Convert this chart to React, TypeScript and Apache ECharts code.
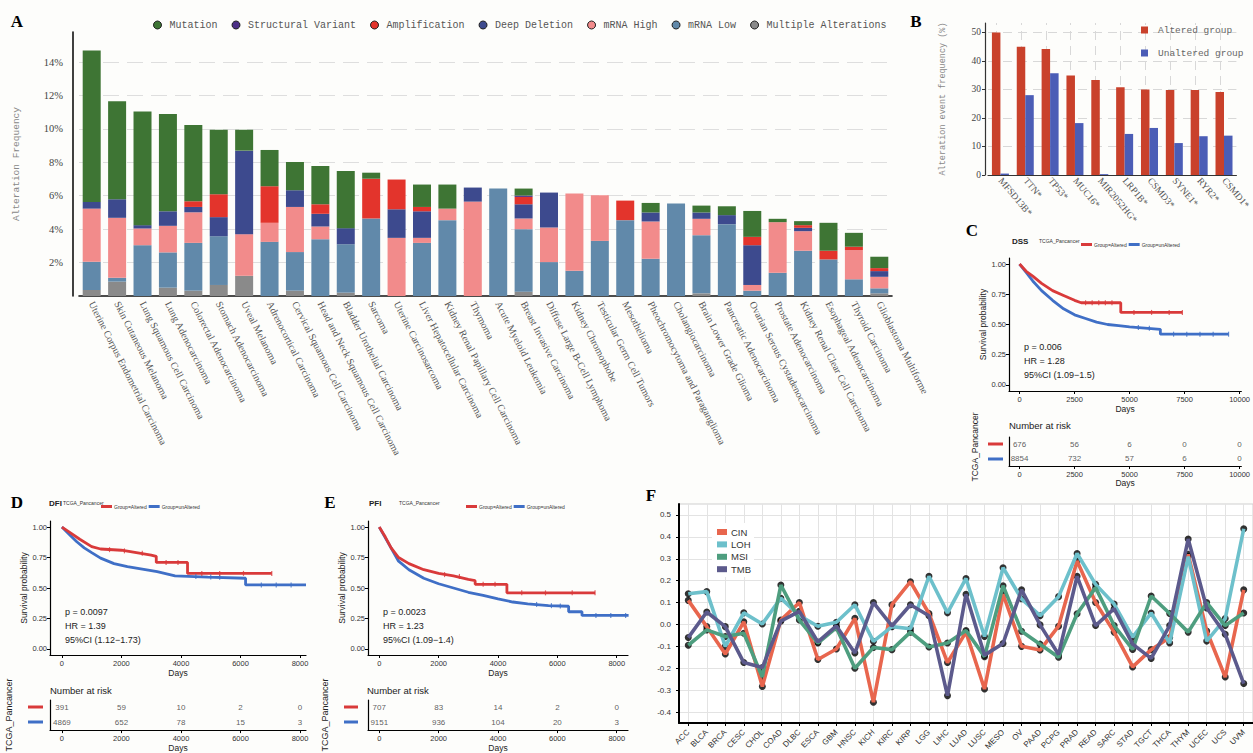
import React, { useEffect, useRef } from "react";
import * as echarts from "echarts";

// ---------- Panel A data ----------
const cancerTypes = [
  "Uterine Corpus Endometrial Carcinoma", "Skin Cutaneous Melanoma", "Lung Squamous Cell Carcinoma",
  "Lung Adenocarcinoma", "Colorectal Adenocarcinoma", "Stomach Adenocarcinoma", "Uveal Melanoma",
  "Adrenocortical Carcinoma", "Cervical Squamous Cell Carcinoma", "Head and Neck Squamous Cell Carcinoma",
  "Bladder Urothelial Carcinoma", "Sarcoma", "Uterine Carcinosarcoma", "Liver Hepatocellular Carcinoma",
  "Kidney Renal Papillary Cell Carcinoma", "Thymoma", "Acute Myeloid Leukemia", "Breast Invasive Carcinoma",
  "Diffuse Large B-Cell Lymphoma", "Kidney Chromophobe", "Testicular Germ Cell Tumors", "Mesothelioma",
  "Pheochromocytoma and Paraganglioma", "Cholangiocarcinoma", "Brain Lower Grade Glioma",
  "Pancreatic Adenocarcinoma", "Ovarian Serous Cystadenocarcinoma", "Prostate Adenocarcinoma",
  "Kidney Renal Clear Cell Carcinoma", "Esophageal Adenocarcinoma", "Thyroid Carcinoma", "Glioblastoma Multiforme",
];
const multipleAlterations = [0.36, 0.86, 0, 0.5, 0.32, 0.66, 1.21, 0, 0.32, 0, 0.2, 0, 0, 0, 0, 0, 0, 0.26, 0, 0, 0, 0, 0, 0, 0.16, 0, 0, 0, 0, 0, 0, 0.16];
const mrnaLow = [1.69, 0.23, 3.04, 2.11, 2.86, 2.92, 0, 3.24, 2.31, 3.4, 2.9, 4.64, 0, 3.18, 4.54, 0, 6.43, 3.74, 2.03, 1.51, 3.3, 4.54, 2.23, 5.53, 3.48, 4.3, 0.32, 1.39, 2.71, 2.19, 1.0, 0.3];
const mrnaHigh = [3.18, 3.59, 1.0, 1.59, 1.83, 0, 2.49, 1.14, 2.7, 0.76, 0, 0, 3.48, 0.3, 0.69, 5.65, 0, 0.64, 2.07, 4.62, 2.73, 0, 2.23, 0, 0.98, 0, 0.34, 3.03, 1.17, 0, 1.75, 0.69];
const deepDeletion = [0.4, 1.11, 0.2, 0.87, 0.32, 1.14, 5.0, 0, 1.0, 0.76, 0.96, 0, 1.71, 1.59, 0, 0.84, 0, 0.85, 2.09, 0, 0, 0, 0.54, 0, 0.38, 0.54, 2.38, 0, 0.2, 0, 0, 0.34];
const amplification = [0, 0, 0, 0, 0.34, 1.37, 0, 2.19, 0, 0.57, 0, 2.38, 1.78, 0.26, 0, 0, 0, 0.44, 0, 0, 0, 1.17, 0, 0, 0, 0, 0.5, 0, 0.16, 0.52, 0.2, 0.18];
const structuralVariant = [0, 0, 0, 0, 0, 0, 0, 0, 0, 0, 0, 0, 0, 0, 0, 0, 0, 0.08, 0, 0, 0, 0, 0, 0, 0, 0, 0, 0, 0, 0, 0, 0];
const mutation = [9.06, 5.87, 6.8, 5.82, 4.56, 3.86, 1.25, 2.17, 1.69, 2.29, 3.42, 0.36, 0, 1.34, 1.44, 0, 0, 0.42, 0, 0, 0, 0, 0.57, 0, 0.41, 0.53, 1.55, 0.2, 0.24, 1.67, 0.83, 0.68];
const freqTicks = [2, 4, 6, 8, 10, 12, 14];

// ---------- Panel B data ----------
const genes = ["MFSD13B*", "TTN*", "TP53*", "MUC16*", "MIR2052HG*", "LRP1B*", "CSMD3*", "SYNE1*", "RYR2*", "CSMD1*"];
const alteredGroup = [50.0, 45.0, 44.2, 34.9, 33.3, 30.8, 30.0, 29.8, 29.8, 29.1];
const unalteredGroup = [0.5, 28.0, 35.7, 18.2, 0.3, 14.4, 16.5, 11.2, 13.6, 13.8];
const eventTicks = [0, 10, 20, 30, 40, 50];

// ---------- Panels C, D, E (Kaplan-Meier) ----------
const survTicks = [0, 0.25, 0.5, 0.75, 1];
const dssAlteredDays = [0, 300, 600, 1000, 1500, 2000, 2500, 2800, 4600, 4600, 7400];
const dssAlteredSurv = [1, 0.94, 0.9, 0.84, 0.78, 0.74, 0.7, 0.68, 0.68, 0.6, 0.6];
const dssUnalteredDays = [0, 300, 600, 1000, 1500, 2000, 2500, 3000, 3500, 4000, 4500, 5000, 6400, 6400, 9500];
const dssUnalteredSurv = [1, 0.93, 0.86, 0.78, 0.7, 0.63, 0.58, 0.55, 0.52, 0.5, 0.49, 0.48, 0.46, 0.42, 0.42];
const dssAlteredCensor = [[3000, 0.68], [3300, 0.68], [3600, 0.68], [3900, 0.68], [4200, 0.68], [5200, 0.6], [6000, 0.6], [6800, 0.6], [7400, 0.6]];
const dssUnalteredCensor = [[5400, 0.475], [5900, 0.47], [7000, 0.42], [7600, 0.42], [8200, 0.42], [8800, 0.42], [9500, 0.42]];
const dssDayTicks = [0, 2500, 5000, 7500, 10000];
const dssRiskAltered = [676, 56, 6, 0, 0];
const dssRiskUnaltered = [8854, 732, 57, 6, 0];

const dfiAlteredDays = [0, 300, 600, 1000, 1300, 2000, 2500, 3000, 3170, 3170, 4220, 4220, 7050];
const dfiAlteredSurv = [1, 0.95, 0.9, 0.84, 0.82, 0.81, 0.79, 0.77, 0.76, 0.71, 0.71, 0.62, 0.62];
const dfiUnalteredDays = [0, 250, 500, 750, 1000, 1300, 1750, 2200, 3200, 3800, 4900, 6170, 6170, 8200];
const dfiUnalteredSurv = [1, 0.94, 0.88, 0.83, 0.79, 0.745, 0.7, 0.675, 0.635, 0.6, 0.59, 0.58, 0.525, 0.525];
const dfiAlteredCensor = [[1600, 0.815], [2100, 0.805], [2700, 0.785], [3500, 0.71], [3900, 0.71], [4700, 0.62], [5300, 0.62], [6100, 0.62], [7050, 0.62]];
const dfiUnalteredCensor = [[4500, 0.595], [5000, 0.59], [5300, 0.588], [6700, 0.525], [7200, 0.525], [7700, 0.525]];
const dfiDayTicks = [0, 2000, 4000, 6000, 8000];
const dfiRiskAltered = [391, 59, 10, 2, 0];
const dfiRiskUnaltered = [4869, 652, 78, 15, 3];

const pfiAlteredDays = [0, 200, 400, 650, 1000, 1500, 2000, 2500, 3000, 3230, 3230, 4300, 4300, 7270];
const pfiAlteredSurv = [1, 0.92, 0.83, 0.75, 0.7, 0.65, 0.62, 0.6, 0.57, 0.56, 0.53, 0.53, 0.46, 0.46];
const pfiUnalteredDays = [0, 300, 650, 1000, 1500, 2000, 2500, 3000, 3500, 4000, 4500, 5000, 5700, 6380, 6380, 6830, 6830, 8400];
const pfiUnalteredSurv = [1, 0.87, 0.72, 0.65, 0.58, 0.535, 0.5, 0.465, 0.44, 0.41, 0.385, 0.37, 0.355, 0.35, 0.305, 0.305, 0.275, 0.275];
const pfiAlteredCensor = [[2200, 0.61], [2700, 0.595], [3500, 0.53], [3900, 0.53], [4800, 0.46], [5600, 0.46], [6500, 0.46], [7270, 0.46]];
const pfiUnalteredCensor = [[5300, 0.365], [5800, 0.355], [6100, 0.352], [7300, 0.275], [7800, 0.275], [8300, 0.275]];
const pfiDayTicks = [0, 2000, 4000, 6000, 8000];
const pfiRiskAltered = [707, 83, 14, 2, 0];
const pfiRiskUnaltered = [9151, 936, 104, 20, 3];

// ---------- Panel F data ----------
const tcgaCodes = ["ACC", "BLCA", "BRCA", "CESC", "CHOL", "COAD", "DLBC", "ESCA", "GBM", "HNSC", "KICH", "KIRC", "KIRP", "LGG", "LIHC", "LUAD", "LUSC", "MESO", "OV", "PAAD", "PCPG", "PRAD", "READ", "SARC", "STAD", "TGCT", "THCA", "THYM", "UCEC", "UCS", "UVM"];
const cin = [0.11, -0.01, -0.135, 0.012, -0.283, 0.02, 0.1, -0.16, -0.112, 0.028, -0.355, 0.09, 0.195, 0.05, -0.174, -0.035, -0.295, 0.138, -0.1, -0.117, -0.008, 0.29, 0.1, -0.035, -0.194, -0.115, -0.06, 0.32, -0.03, -0.24, 0.158];
const loh = [0.14, 0.15, -0.1, 0.053, 0.002, 0.12, 0.04, -0.008, 0.01, 0.09, -0.077, -0.01, -0.02, 0.22, 0.053, 0.21, -0.055, 0.259, 0.117, 0.04, 0.127, 0.324, 0.183, 0.093, -0.058, 0.052, -0.085, 0.31, -0.076, 0.027, 0.437];
const msi = [-0.095, -0.025, -0.055, -0.04, -0.24, 0.18, 0.02, -0.085, -0.015, -0.2, -0.105, -0.115, -0.035, -0.103, -0.085, -0.028, -0.147, 0.177, -0.031, -0.09, -0.15, 0.049, 0.168, -0.005, -0.114, 0.13, 0.05, -0.035, 0.1, -0.005, 0.052];
const tmb = [-0.06, 0.057, -0.01, -0.174, -0.197, 0.015, 0.06, -0.08, -0.007, -0.13, 0.1, -0.007, 0.09, 0.04, -0.325, 0.138, -0.14, -0.087, 0.158, -0.002, -0.137, 0.22, -0.005, 0.072, -0.09, -0.155, -0.005, 0.39, 0.075, -0.045, -0.27];
const corrTicks = [-0.4, -0.3, -0.2, -0.1, 0, 0.1, 0.2, 0.3, 0.4, 0.5];
const fNames = ["CIN", "LOH", "MSI", "TMB"];

// ---------- styling ----------
const MONO = "'Liberation Mono', 'DejaVu Sans Mono', monospace";
const SERIF = "'Liberation Serif', 'DejaVu Serif', serif";
const SANS = "'Liberation Sans', Arial, sans-serif";
const RED_KM = "#D93A3A";
const BLUE_KM = "#3F6FC6";

const zip = (a: number[], b: number[]) => a.map((v, i) => [v, b[i]]);

function kmAxes(grid: number, tableGrid: number, min: number, max: number, ticks: number[]) {
  const xPlot = {
    type: "value", gridIndex: grid, min, max,
    axisLine: { show: true, onZero: false, lineStyle: { color: "#000", width: 1.2 } },
    axisTick: { show: true, customValues: ticks, length: 3, lineStyle: { color: "#000" } },
    axisLabel: { customValues: ticks, formatter: (v: number) => String(v), fontSize: 7.5, color: "#333", fontFamily: SANS, margin: 4 },
    splitLine: { show: false },
    name: "Days", nameLocation: "middle", nameGap: 13,
    nameTextStyle: { fontSize: 8.5, color: "#222", fontFamily: SANS },
  };
  const xTable = { ...xPlot, gridIndex: tableGrid, nameGap: 12 };
  const yPlot = {
    type: "value", gridIndex: grid, min: -0.05, max: 1.05,
    axisLine: { show: true, onZero: false, lineStyle: { color: "#000", width: 1.2 } },
    axisTick: { show: true, customValues: survTicks, length: 3, lineStyle: { color: "#000" } },
    axisLabel: { customValues: survTicks, formatter: (v: number) => v.toFixed(2), fontSize: 7.5, color: "#333", fontFamily: SANS, margin: 3 },
    splitLine: { show: false },
    name: "Survival probability", nameLocation: "middle", nameGap: 22,
    nameTextStyle: { fontSize: 8.5, color: "#222", fontFamily: SANS },
  };
  const yTable = {
    type: "value", gridIndex: tableGrid, min: 0, max: 4,
    axisLine: { show: true, onZero: false, lineStyle: { color: "#000", width: 1.2 } },
    axisTick: { show: false }, axisLabel: { show: false }, splitLine: { show: false },
  };
  return { xPlot, xTable, yPlot, yTable };
}

function kmSeries(axisIdx: number, tableIdx: number, aD: number[], aS: number[], uD: number[], uS: number[],
  aC: number[][], uC: number[][], ticks: number[], rA: number[], rU: number[]) {
  const line = (name: string, color: string, data: number[][]) => ({
    type: "line", name, xAxisIndex: axisIdx, yAxisIndex: axisIdx, data, color,
    showSymbol: false, symbol: "none", lineStyle: { width: 2.8, color }, silent: true, z: 3,
  });
  const censor = (name: string, color: string, data: number[][]) => ({
    type: "scatter", name, xAxisIndex: axisIdx, yAxisIndex: axisIdx, data, symbol: "rect", symbolSize: [1.2, 5],
    itemStyle: { color }, silent: true, z: 4,
  });
  const risk = (name: string, row: number, vals: number[]) => ({
    type: "scatter", name, xAxisIndex: tableIdx, yAxisIndex: tableIdx, symbolSize: 1,
    itemStyle: { color: "rgba(0,0,0,0)" }, silent: true,
    label: { show: true, position: "inside", formatter: (p: any) => String(p.value[2]), fontSize: 8, color: "#333", fontFamily: SANS },
    data: ticks.map((d, i) => [d, row, vals[i]]),
  });
  return [
    line("Group=unAltered", BLUE_KM, zip(uD, uS)),
    line("Group=Altered", RED_KM, zip(aD, aS)),
    censor("censor-unaltered", BLUE_KM, uC),
    censor("censor-altered", RED_KM, aC),
    risk("risk-altered", 3, rA),
    risk("risk-unaltered", 1, rU),
  ];
}

function kmLegend(left: number, top: number) {
  return {
    left, top, itemWidth: 11, itemHeight: 3, itemGap: 2, icon: "rect",
    data: ["Group=Altered", "Group=unAltered"],
    textStyle: { fontSize: 5, color: "#333", fontFamily: SANS, padding: [0, 0, 0, -3] },
    selectedMode: false,
  };
}

function txt(x: number, y: number, text: string, size: number, opts: any = {}) {
  return {
    type: "text", x, y, silent: true, rotation: opts.rotation || 0, z: opts.z || 0,
    style: {
      text, fontSize: size, fontFamily: opts.font || SANS, fontWeight: opts.bold ? "bold" : "normal",
      fill: opts.color || "#222", align: opts.align || "left", verticalAlign: "middle",
    },
  };
}
function bar(x1: number, x2: number, y: number, color: string, h = 3, z = 0) {
  return { type: "rect", silent: true, z, shape: { x: x1, y: y - h / 2, width: x2 - x1, height: h }, style: { fill: color } };
}

export default function App() {
  const ref = useRef<HTMLDivElement>(null);
  const refF = useRef<HTMLDivElement>(null);
  useEffect(() => {
    if (!ref.current || !refF.current) return;
    const chart = echarts.init(ref.current, null, { renderer: "svg" });
    const chartF = echarts.init(refF.current, null, { renderer: "svg" });

    const C = kmAxes(2, 3, -480, 10080, dssDayTicks);
    const D = kmAxes(4, 5, -400, 8200, dfiDayTicks);
    const E = kmAxes(6, 7, -380, 8380, pfiDayTicks);

    const aColors: Record<string, string> = {
      "Mutation": "#3E7534", "Structural Variant": "#4B2E86", "Amplification": "#E3342C",
      "Deep Deletion": "#3D4A8E", "mRNA High": "#F28B8B", "mRNA Low": "#6189AA", "Multiple Alterations": "#8A8A8A",
    };
    const aSeries: [string, number[]][] = [
      ["Multiple Alterations", multipleAlterations], ["mRNA Low", mrnaLow], ["mRNA High", mrnaHigh],
      ["Deep Deletion", deepDeletion], ["Amplification", amplification], ["Structural Variant", structuralVariant],
      ["Mutation", mutation],
    ];

    const option: any = {
      animation: false,
      backgroundColor: "#fdfdfb",
      grid: [
        { left: 79, top: 32, width: 813, height: 264 },
        { left: 988, top: 23, width: 252, height: 152 },
        { left: 1009, top: 258, width: 245, height: 133 },
        { left: 1009, top: 437, width: 245, height: 29 },
        { left: 50, top: 521, width: 256, height: 134 },
        { left: 50, top: 700, width: 256, height: 32 },
        { left: 368, top: 521, width: 260, height: 134 },
        { left: 368, top: 700, width: 260, height: 32 },
      ],
      xAxis: [
        {
          type: "category", gridIndex: 0, data: cancerTypes,
          axisLine: { onZero: false, lineStyle: { color: "#111", width: 1.6 } }, axisTick: { show: false },
          axisLabel: { interval: 0, rotate: -63, fontSize: 10, color: "#555", fontFamily: SERIF, margin: 6 },
        },
        {
          type: "category", gridIndex: 1, data: genes,
          axisLine: { onZero: false, lineStyle: { color: "#333", width: 1.2 } }, axisTick: { show: false },
          axisLabel: { interval: 0, rotate: -50, fontSize: 9.5, color: "#555", fontFamily: SERIF, margin: 4 },
        },
        C.xPlot, C.xTable, D.xPlot, D.xTable, E.xPlot, E.xTable,
      ],
      yAxis: [
        {
          type: "value", gridIndex: 0, min: 0, max: 15.8, offset: 6,
          axisLine: { show: true, lineStyle: { color: "#111", width: 1.6 } }, axisTick: { show: false },
          axisLabel: { customValues: freqTicks, formatter: (v: number) => v + "%", fontSize: 10.5, color: "#444", fontFamily: SERIF, margin: 10 },
          splitLine: { show: false },
          name: "Alteration Frequency", nameLocation: "middle", nameGap: 52,
          nameTextStyle: { fontSize: 9.5, color: "#888", fontFamily: MONO },
        },
        {
          type: "value", gridIndex: 1, min: 0, max: 53.3, offset: 3,
          axisLine: { show: true, lineStyle: { color: "#333", width: 1.2 } },
          axisTick: { show: true, customValues: eventTicks, length: 3, lineStyle: { color: "#333" } },
          axisLabel: { customValues: eventTicks, fontSize: 9.5, color: "#444", fontFamily: SERIF, margin: 4 },
          splitLine: { show: false },
          name: "Alteration event frequency (%)", nameLocation: "middle", nameGap: 38,
          nameTextStyle: { fontSize: 8.5, color: "#888", fontFamily: MONO },
        },
        C.yPlot, C.yTable, D.yPlot, D.yTable, E.yPlot, E.yTable,
      ],
      legend: [
        {
          left: 148, top: 15, itemWidth: 8, itemHeight: 8, itemGap: 14, icon: "circle", selectedMode: false,
          data: ["Mutation", "Structural Variant", "Amplification", "Deep Deletion", "mRNA High", "mRNA Low", "Multiple Alterations"],
          itemStyle: { borderColor: "#222", borderWidth: 1 },
          textStyle: { fontSize: 10, color: "#555", fontFamily: MONO, padding: [0, 0, 0, 3] },
        },
        {
          left: 1136, top: 20, orient: "vertical", itemWidth: 7, itemHeight: 7, itemGap: 13, icon: "rect", selectedMode: false,
          data: ["Altered group", "Unaltered group"],
          textStyle: { fontSize: 9.5, color: "#666", fontFamily: MONO, padding: [0, 0, 0, 5] },
        },
        kmLegend(1076, 237),
        kmLegend(96, 499),
        kmLegend(461, 499),
      ],
      series: [
        ...aSeries.map(([name, vals], i) => ({
          type: "bar", name, stack: "alt", xAxisIndex: 0, yAxisIndex: 0, data: vals, barWidth: 18,
          itemStyle: { color: aColors[name] }, silent: true, z: 2,
          ...(i === 0
            ? {
                markLine: {
                  silent: true, symbol: ["none", "none"], z: 1, label: { show: false },
                  lineStyle: { color: "#dedede", type: [16, 8], width: 1.2 },
                  data: freqTicks.map((t) => ({ yAxis: t })),
                },
              }
            : {}),
        })),
        {
          type: "bar", name: "Altered group", xAxisIndex: 1, yAxisIndex: 1, data: alteredGroup, barWidth: 8.5, barGap: "0%",
          itemStyle: { color: "#C9412B" }, silent: true, z: 2,
          markLine: {
            silent: true, symbol: ["none", "none"], z: 1, label: { show: false },
            lineStyle: { color: "#d8d8d8", type: [9, 6], width: 1 },
            data: [...eventTicks.slice(1).map((t) => ({ yAxis: t })), ...genes.map((g) => ({ xAxis: g }))],
          },
        },
        {
          type: "bar", name: "Unaltered group", xAxisIndex: 1, yAxisIndex: 1, data: unalteredGroup, barWidth: 8.5,
          itemStyle: { color: "#4B5DB6" }, silent: true, z: 2,
        },
        ...kmSeries(2, 3, dssAlteredDays, dssAlteredSurv, dssUnalteredDays, dssUnalteredSurv, dssAlteredCensor, dssUnalteredCensor, dssDayTicks, dssRiskAltered, dssRiskUnaltered),
        ...kmSeries(4, 5, dfiAlteredDays, dfiAlteredSurv, dfiUnalteredDays, dfiUnalteredSurv, dfiAlteredCensor, dfiUnalteredCensor, dfiDayTicks, dfiRiskAltered, dfiRiskUnaltered),
        ...kmSeries(6, 7, pfiAlteredDays, pfiAlteredSurv, pfiUnalteredDays, pfiUnalteredSurv, pfiAlteredCensor, pfiUnalteredCensor, pfiDayTicks, pfiRiskAltered, pfiRiskUnaltered),
      ],
      graphic: [
        txt(17, 21, "A", 17, { bold: true, font: SERIF, align: "center", color: "#000" }),
        txt(916, 21, "B", 17, { bold: true, font: SERIF, align: "center", color: "#000" }),
        txt(972, 230, "C", 17, { bold: true, font: SERIF, align: "center", color: "#000" }),
        txt(17, 502, "D", 17, { bold: true, font: SERIF, align: "center", color: "#000" }),
        txt(330, 502, "E", 17, { bold: true, font: SERIF, align: "center", color: "#000" }),
        txt(1012, 241, "DSS", 8, { bold: true }),
        txt(1039, 241, "TCGA_Pancancer", 5, { color: "#333" }),
        txt(49, 503, "DFI", 8, { bold: true }),
        txt(63, 503, "TCGA_Pancancer", 5, { color: "#333" }),
        txt(369, 503, "PFI", 8, { bold: true }),
        txt(399, 503, "TCGA_Pancancer", 5, { color: "#333" }),
        txt(1024, 347, "p = 0.006", 9),
        txt(1024, 361, "HR = 1.28", 9),
        txt(1024, 375, "95%CI (1.09\u22121.5)", 9),
        txt(65, 612, "p = 0.0097", 9),
        txt(65, 626, "HR = 1.39", 9),
        txt(65, 640, "95%CI (1.12\u22121.73)", 9),
        txt(383, 612, "p = 0.0023", 9),
        txt(383, 626, "HR = 1.23", 9),
        txt(383, 640, "95%CI (1.09\u22121.4)", 9),
        txt(1009, 425, "Number at risk", 9.5),
        txt(50, 690, "Number at risk", 9.5),
        txt(367, 690, "Number at risk", 9.5),
        txt(975, 447, "TCGA_Pancancer", 8.5, { rotation: Math.PI / 2, align: "center" }),
        txt(9, 715, "TCGA_Pancancer", 9, { rotation: Math.PI / 2, align: "center" }),
        txt(325, 715, "TCGA_Pancancer", 9, { rotation: Math.PI / 2, align: "center" }),
        bar(988, 1003, 444, RED_KM), bar(988, 1003, 459, BLUE_KM),
        bar(28, 43, 707, RED_KM), bar(28, 43, 722, BLUE_KM),
        bar(344, 358, 707, RED_KM), bar(344, 358, 722, BLUE_KM),
      ],
    };
    chart.setOption(option);

    // ---------- Panel F (own instance, overlaid) ----------
    const fColors = ["#E8664E", "#6DC0CB", "#4E9E7F", "#5C5A8C"];
    const fValues = [cin, loh, msi, tmb];
    const optionF: any = {
      animation: false,
      grid: [{ left: 679, top: 504, width: 579, height: 219, show: true, backgroundColor: "#fff", borderColor: "#cfcfcf" }],
      xAxis: [{
        type: "category", gridIndex: 0, data: tcgaCodes, position: "bottom",
        axisLine: { show: true, onZero: false, lineStyle: { color: "#000", width: 2 } },
        axisTick: { show: true, alignWithLabel: true, length: 3 },
        axisLabel: { interval: 0, rotate: 45, fontSize: 8, color: "#333", fontFamily: SANS },
        splitLine: { show: true, alignWithLabel: true, lineStyle: { color: "#e3e3e3", width: 1 } },
      }],
      yAxis: [{
        type: "value", gridIndex: 0, min: -0.45, max: 0.55, interval: 0.05,
        axisLine: { show: true, onZero: false, lineStyle: { color: "#000", width: 2 } },
        axisTick: { show: true, customValues: corrTicks, length: 3 },
        axisLabel: { customValues: corrTicks, formatter: (v: number) => v.toFixed(1), fontSize: 8, color: "#333", fontFamily: SANS },
        splitLine: { show: true, lineStyle: { color: "#e3e3e3", width: 1 } },
      }],
      series: [
        ...fValues.map((vals, i) => ({
          type: "line", xAxisIndex: 0, yAxisIndex: 0, data: vals, symbol: "none", color: fColors[i], lineStyle: { width: 3.6 },
        })),
        ...fValues.map((vals) => ({
          type: "scatter", xAxisIndex: 0, yAxisIndex: 0, data: vals, symbolSize: 7, itemStyle: { color: "#000" },
        })),
      ],
      graphic: [
        txt(651, 495, "F", 17, { bold: true, font: SERIF, align: "center", color: "#000", z: 100 }),
        { type: "rect", silent: true, z: 100, shape: { x: 712, y: 523, width: 42, height: 54 }, style: { fill: "#ffffff" } },
        ...fNames.map((n, i) => bar(717, 727, 532 + i * 12.4, fColors[i], 6, 101)),
        ...fNames.map((n, i) => txt(731, 532 + i * 12.4, n, 9.5, { color: "#333", z: 101 })),
      ],
    };
    chartF.setOption(optionF);

    return () => {
      chart.dispose();
      chartF.dispose();
    };
  }, []);
  return (
    <div style={{ position: "fixed", left: 0, top: 0, width: 1253, height: 753 }}>
      <div ref={ref} style={{ position: "absolute", left: 0, top: 0, width: 1253, height: 753 }} />
      <div ref={refF} style={{ position: "absolute", left: 0, top: 0, width: 1253, height: 753, pointerEvents: "none" }} />
    </div>
  );
}
